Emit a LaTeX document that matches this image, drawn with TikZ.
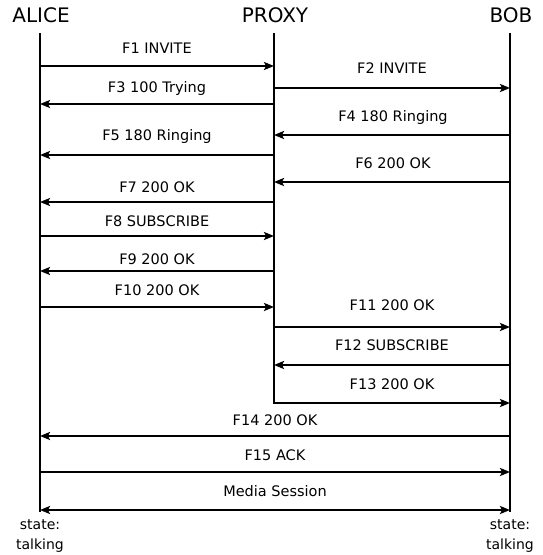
\documentclass[tikz,border=0pt]{standalone}
\usepackage{fontspec}
\setmainfont{DejaVu Sans}
\usetikzlibrary{arrows.meta}
\tikzset{
  head/.style={font=\fontsize{20}{22}\selectfont, inner sep=0pt},
  lbl/.style={font=\fontsize{14.5}{16}\selectfont, inner sep=0pt},
  st/.style={font=\fontsize{14}{16}\selectfont, inner sep=0pt},
  life/.style={line width=2pt},
  msg/.style={line width=2pt, -{Stealth[length=10pt,width=8pt,inset=2pt]}},
  msgboth/.style={line width=2pt, {Stealth[length=10pt,width=8pt,inset=2pt]}-{Stealth[length=10pt,width=8pt,inset=2pt]}}
}
\begin{document}
\begin{tikzpicture}[x=1pt,y=-1pt]
\useasboundingbox[fill=white] (0,0) rectangle (543,555);
% headers
\node[head] (alice) at (41,15) {ALICE};
\node[head] (proxy) at (275,15) {PROXY};
\node[head] (bob) at (511,15) {BOB};
% lifelines
\coordinate (A) at (40,33);
\coordinate (P) at (274,33);
\coordinate (B) at (510,33);
\coordinate (Ae) at (40,512);
\coordinate (Pe) at (274,404);
\coordinate (Be) at (510,512);
\draw[life] (A) -- (Ae);
\draw[life] (P) -- (Pe);
\draw[life] (B) -- (Be);
% messages
\draw[msg] (A |- 0,66) -- (P |- 0,66);
\node[lbl] (l1) at (157,48) {F1 INVITE};
\draw[msg] (P |- 0,88) -- (B |- 0,88);
\node[lbl] (l2) at (392,68) {F2 INVITE};
\draw[msg] (P |- 0,104) -- (A |- 0,104);
\node[lbl] (l3) at (157,88) {F3 100 Trying};
\draw[msg] (B |- 0,135) -- (P |- 0,135);
\node[lbl] (l4) at (393,117) {F4 180 Ringing};
\draw[msg] (P |- 0,155) -- (A |- 0,155);
\node[lbl] (l5) at (157,136) {F5 180 Ringing};
\draw[msg] (B |- 0,182) -- (P |- 0,182);
\node[lbl] (l6) at (393,163) {F6 200 OK};
\draw[msg] (P |- 0,202) -- (A |- 0,202);
\node[lbl] (l7) at (157,187) {F7 200 OK};
\draw[msg] (A |- 0,236) -- (P |- 0,236);
\node[lbl] (l8) at (157,221) {F8 SUBSCRIBE};
\draw[msg] (P |- 0,271) -- (A |- 0,271);
\node[lbl] (l9) at (157,259) {F9 200 OK};
\draw[msg] (A |- 0,307) -- (P |- 0,307);
\node[lbl] (l10) at (157,290) {F10 200 OK};
\draw[msg] (P |- 0,327) -- (B |- 0,327);
\node[lbl] (l11) at (392,305) {F11 200 OK};
\draw[msg] (B |- 0,365) -- (P |- 0,365);
\node[lbl] (l12) at (392,345) {F12 SUBSCRIBE};
\draw[msg] (P |- 0,403) -- (B |- 0,403);
\node[lbl] (l13) at (392,384) {F13 200 OK};
\draw[msg] (B |- 0,436) -- (A |- 0,436);
\node[lbl] (l14) at (275,420) {F14 200 OK};
\draw[msg] (A |- 0,472) -- (B |- 0,472);
\node[lbl] (l15) at (275,455) {F15 ACK};
\draw[msgboth] (A |- 0,510) -- (B |- 0,510);
\node[lbl] (l16) at (275,491) {Media Session};
% states
\node[st] (sa1) at (40,525) {state:};
\node[st] (sa2) at (40,546) {talking};
\node[st] (sb1) at (510,525) {state:};
\node[st] (sb2) at (510,546) {talking};
\end{tikzpicture}
\end{document}
